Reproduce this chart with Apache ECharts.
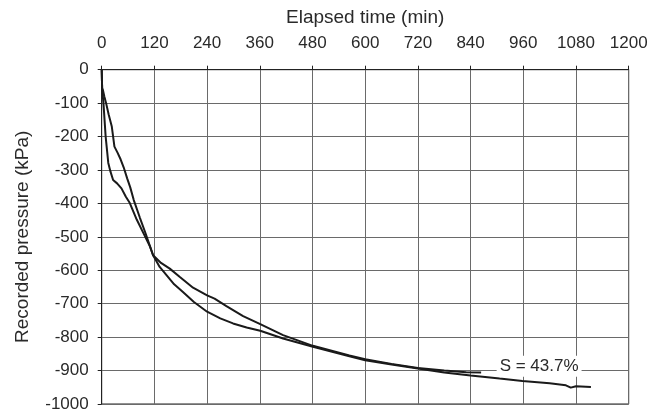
<!DOCTYPE html>
<html>
<head>
<meta charset="utf-8">
<script src="https://cdn.jsdelivr.net/npm/echarts@6/dist/echarts.min.js"></script>
<style>
  html, body { margin: 0; padding: 0; background: #fff; }
  #chart { width: 661px; height: 413px; }
</style>
</head>
<body>
<div id="chart"></div>
<script>
// Elapsed time ticks (min) and pressure ticks (kPa)
const timeTicks = [0, 120, 240, 360, 480, 600, 720, 840, 960, 1080, 1200];
const pressureTicks = [0, -100, -200, -300, -400, -500, -600, -700, -800, -900, -1000];

// First test: [elapsed time (min), recorded pressure (kPa)]
const testA = [
  [0, 0], [1, -58], [4, -100], [9, -200], [15, -279], [20, -305], [26, -330],
  [35, -340], [45, -355], [55, -380], [64, -399], [80, -449], [95, -489],
  [110, -529], [117, -555], [135, -578], [155, -595], [178, -620], [208, -652],
  [240, -675], [257, -685], [284, -707], [322, -737], [361, -761], [413, -794],
  [481, -826], [564, -855], [600, -866], [660, -880], [720, -892], [780, -900],
  [830, -905], [864, -906]
];

// Second test, run to the end
const testB = [
  [0, 0], [1, -55], [3, -62], [6, -80], [10, -100], [16, -135], [23, -170],
  [29, -230], [36, -248], [43, -268], [50, -292], [58, -325], [65, -352],
  [73, -390], [87, -443], [100, -490], [117, -555], [132, -590], [148, -615],
  [165, -642], [185, -665], [210, -695], [240, -724], [270, -744], [299, -759],
  [330, -771], [361, -781], [413, -804], [481, -829], [564, -857], [600, -869],
  [660, -882], [720, -894], [780, -906], [840, -915], [906, -924], [958, -931],
  [1020, -938], [1057, -944], [1068, -951], [1080, -947], [1114, -949]
];

// Annotation
const noteText = 'S = 43.7%';
const notePos = [996, -887];

const font = 'Liberation Sans';
const ink = '#2a2a2a';
const plain = v => String(v);
const chart = echarts.init(document.getElementById('chart'));

chart.setOption({
  animation: false,
  backgroundColor: '#fff',
  grid: {
    left: 101.7, right: 32.3, top: 69.7, bottom: 9,
    show: true, borderColor: '#222', borderWidth: 1
  },
  xAxis: {
    type: 'value', position: 'top',
    min: timeTicks[0], max: timeTicks[timeTicks.length - 1], interval: 120,
    name: 'Elapsed time (min)', nameLocation: 'middle', nameGap: 42,
    nameTextStyle: { fontFamily: font, fontSize: 19, color: ink },
    axisLine: { show: true, lineStyle: { color: '#222', width: 1 } },
    axisTick: { show: true, length: 4, lineStyle: { color: '#222' } },
    axisLabel: { fontFamily: font, fontSize: 17, color: ink, margin: 18, formatter: plain },
    splitLine: { show: true, lineStyle: { color: '#6a6a6a', width: 1 } }
  },
  yAxis: {
    type: 'value',
    min: pressureTicks[pressureTicks.length - 1], max: pressureTicks[0], interval: 100,
    name: 'Recorded pressure (kPa)', nameLocation: 'middle', nameGap: 69,
    nameTextStyle: { fontFamily: font, fontSize: 19, color: ink },
    axisLine: { show: true, lineStyle: { color: '#222', width: 1 } },
    axisTick: { show: true, length: 4, lineStyle: { color: '#222' } },
    axisLabel: { fontFamily: font, fontSize: 17, color: ink, margin: 13, formatter: plain },
    splitLine: { show: true, lineStyle: { color: '#6a6a6a', width: 1 } }
  },
  series: [
    {
      type: 'line', data: testA, showSymbol: false, smooth: false,
      lineStyle: { color: '#1a1a1a', width: 2 }
    },
    {
      type: 'line', data: testB, showSymbol: false, smooth: false,
      lineStyle: { color: '#1a1a1a', width: 2 },
      markPoint: {
        symbol: 'rect', symbolSize: 1,
        itemStyle: { color: 'rgba(0,0,0,0)' },
        data: [{ coord: notePos }],
        label: {
          show: true, position: 'inside', formatter: noteText,
          fontFamily: font, fontSize: 17, color: ink,
          backgroundColor: '#fff', padding: [2, 3]
        }
      }
    }
  ]
});
</script>
</body>
</html>
